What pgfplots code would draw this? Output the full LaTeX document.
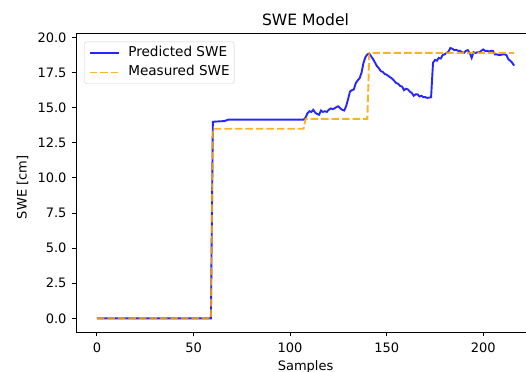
\documentclass[border=0pt]{standalone}
\usepackage{pgfplots}
\pgfplotsset{compat=1.18}
\usepackage{fontspec}
\setmainfont{DejaVu Sans}
\definecolor{mplblue}{RGB}{0,0,255}
\definecolor{mplorange}{RGB}{255,165,0}
\pgfplotstableread{
x y
0 0
59 0
60 14.0
66 14.05
68 14.15
107 14.15
108 14.3
109 14.6
110 14.75
111 14.7
112 14.85
113 14.65
114 14.55
115 14.5
116 14.8
117 14.7
118 14.75
119 14.7
120 14.85
121 14.95
122 14.9
123 14.95
124 15.05
125 15.1
126 14.95
127 14.85
128 14.8
129 15.1
130 15.6
131 16.15
132 16.25
133 16.3
134 16.75
135 16.95
136 17.1
137 17.5
138 18.2
139 18.6
140 18.8
141 18.85
142 18.65
143 18.45
144 18.2
145 17.95
146 17.8
147 17.6
148 17.55
149 17.4
150 17.35
151 17.25
152 17.15
153 17.05
154 16.9
155 16.75
156 16.7
157 16.55
158 16.5
159 16.25
160 16.35
161 16.3
162 16.15
163 16.05
164 15.85
165 15.95
166 15.95
167 15.8
168 15.85
169 15.75
170 15.75
171 15.7
172 15.72
173 15.75
174 18.2
175 18.4
176 18.35
177 18.55
178 18.5
179 18.75
180 18.8
181 18.9
182 19.0
183 19.25
184 19.2
185 19.1
186 19.12
187 19.05
188 19.05
189 18.95
190 18.9
191 19.05
192 19.1
193 18.9
194 18.55
195 18.95
196 18.9
197 18.95
198 18.95
199 19.05
200 19.15
201 19.05
202 19.05
203 19.0
204 19.05
205 19.05
206 18.8
207 18.8
208 18.75
209 18.75
210 18.8
211 18.8
212 18.75
213 18.45
214 18.35
215 18.2
216 18.0
}\predicted
\pgfplotstableread{
x y
0 0
59 0
60 13.5
107 13.5
108 14.2
140 14.2
141 18.9
216 18.9
}\measured
\begin{document}
\begin{tikzpicture}
\path[use as bounding box] (-76.1bp,-40bp) rectangle (449.9bp,332bp);
\begin{axis}[
  at={(0,0)}, anchor=south west,
  scale only axis, width=458.9bp, height=298.3bp,
  xmin=-10.8, xmax=226.8, ymin=-0.97, ymax=20.27,
  every non boxed y axis/.style={},
  axis x line=box, axis y line=left,
  axis line style={black, line width=1bp, -},
  xtick={0,50,100,150,200},
  ytick={0,2.5,5,7.5,10,12.5,15,17.5,20},
  xtick pos=bottom, ytick pos=left,
  tick align=outside, major tick length=4.4bp,
  tick style={black, line width=1bp},
  /pgf/number format/assume math mode=true,
  yticklabel style={/pgf/number format/fixed, /pgf/number format/fixed zerofill, /pgf/number format/precision=1, font=\fontsize{13bp}{15bp}\selectfont, anchor=east, inner sep=0pt, xshift=-5bp},
  xticklabel style={font=\fontsize{13bp}{15bp}\selectfont, anchor=base, inner sep=0pt, yshift=-15.9bp},
  every axis title shift=0pt,
  title={SWE Model},
  title style={font=\fontsize{15.6bp}{18bp}\selectfont, at={(axis description cs:0.5,1)}, anchor=base, inner sep=0pt, yshift=7.7bp},
  xlabel={Samples},
  xlabel style={font=\fontsize{13bp}{15bp}\selectfont, at={(axis description cs:0.5,0)}, anchor=base, inner sep=0pt, yshift=-38.3bp},
  ylabel={SWE [cm]},
  ylabel style={font=\fontsize{13bp}{15bp}\selectfont, at={([xshift=-49.4bp]axis description cs:0,0.485)}, anchor=base, inner sep=0pt, rotate=0},
  legend style={at={(axis description cs:0,1)}, anchor=north west, xshift=8.2bp, yshift=-8bp, draw=black!20, rounded corners=2bp, fill=white, fill opacity=0.8, text opacity=1, draw opacity=1, font=\fontsize{13.6bp}{15bp}\selectfont, inner xsep=4.4bp, inner ysep=5bp, row sep=7.6bp, column sep=8.5bp, nodes={inner sep=0pt, text height=9.5bp, text depth=2.5bp}},
  legend cell align=left,
  legend image code/.code={\draw[#1] (0bp,0bp) -- (29bp,0bp);},
]
\addplot[draw=mplblue, opacity=0.85, line width=1.9bp] table {\predicted};
\addlegendentry{Predicted SWE}
\addplot[draw=mplorange, opacity=0.85, line width=1.9bp, dash pattern=on 7.5bp off 3bp] table {\measured};
\addlegendentry{Measured SWE}
\end{axis}
\end{tikzpicture}
\end{document}
